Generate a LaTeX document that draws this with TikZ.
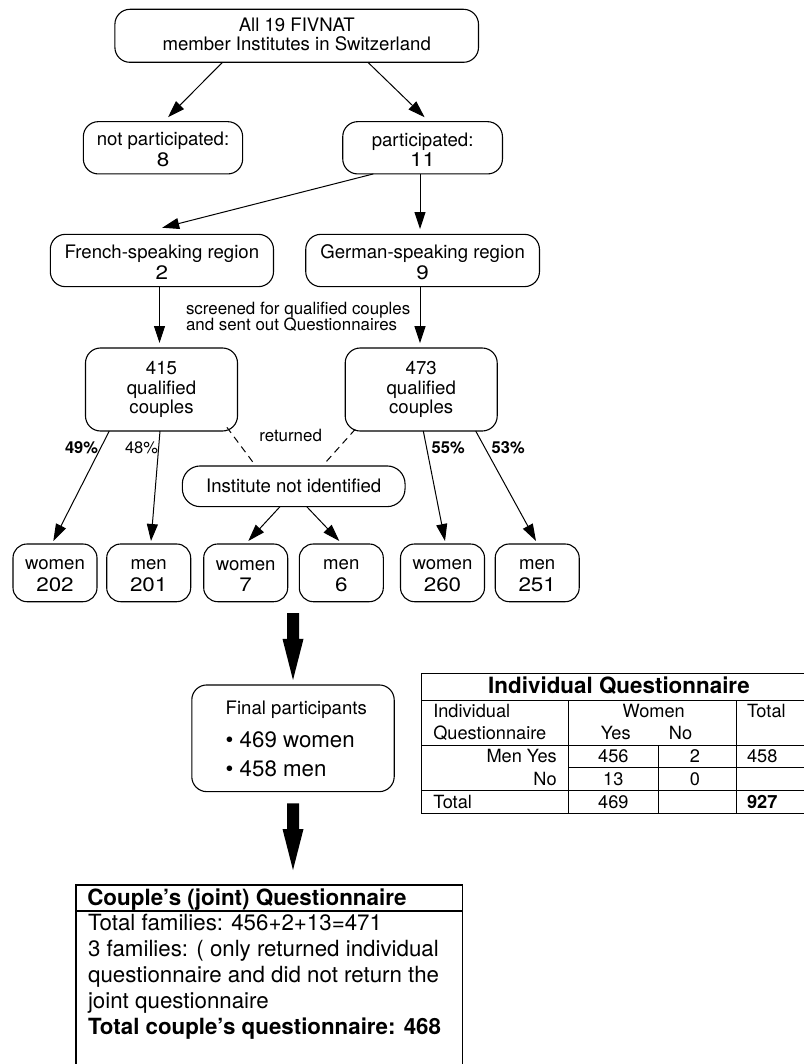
\documentclass[tikz,border=0pt]{standalone}
\usepackage{fontspec}
\setmainfont{TeX Gyre Heros}
\newfontfamily\numfam[FakeStretch=1.15]{TeX Gyre Heros}
\usetikzlibrary{arrows.meta,calc}
\newcommand\myrule[1]{\rule{0pt}{#1}}
\newcommand\bnum[1]{{\numfam\fontsize{19.5}{21}\selectfont #1}}
\begin{document}
\begin{tikzpicture}[x=1pt,y=-1pt,
  every node/.style={inner sep=0pt,outer sep=0pt},
  box/.style={draw,line width=1.1pt,rounded corners=15pt,align=center,font=\fontsize{18.6}{20.5}\selectfont},
  mbox/.style={box,minimum height=52.3pt},
  qbox/.style={box,minimum width=152pt,minimum height=83pt,font=\fontsize{18.6}{19.2}\selectfont},
  bbox/.style={box,rounded corners=14pt,minimum width=84pt,minimum height=57.7pt,font=\fontsize{18.6}{21.7}\selectfont},
  arr/.style={line width=1pt,-{Triangle[length=17pt,width=11pt]}},
  dsh/.style={line width=1pt,dash pattern=on 7pt off 5pt},
  pct/.style={anchor=base west,font=\fontsize{16.5}{18}\selectfont\bfseries},
  note/.style={font=\fontsize{16.9}{16.7}\selectfont},
  fat/.style={to path={let \p1=(\tikztostart),\p2=(\tikztotarget) in
    (\x1-6pt,\y1) -- (\x1-6pt,\y2+41pt) -- (\x1-10.5pt,\y2+41pt) -- (\x2,\y2) --
    (\x1+10.5pt,\y2+41pt) -- (\x1+6pt,\y2+41pt) -- (\x1+6pt,\y1) -- cycle}},
  tline/.style={line width=1pt},
  tcell/.style={anchor=base,font=\fontsize{18.2}{20}\selectfont},
  tleft/.style={tcell,anchor=base west},
  tright/.style={tcell,anchor=base east},
]
\useasboundingbox (0,0) rectangle (804,1064);

% ---- flow chart boxes
\node[box,minimum width=363.6pt,minimum height=53pt,font=\fontsize{18.6}{19}\selectfont] (top) at (296.7,35.8)
  {All 19 FIVNAT\\member Institutes in Switzerland\rule[-2.6pt]{0pt}{2.6pt}};
\node[mbox,minimum width=159.3pt] (notp) at (163,147.8) {\myrule{17pt}not participated:\\\bnum{8}};
\node[mbox,minimum width=159.7pt] (part) at (422.6,147.8) {\myrule{17pt}participated:\\\bnum{11}};
\node[mbox,minimum width=223.2pt] (french) at (161.9,260.5) {\myrule{17pt}French-speaking region\\\bnum{2}};
\node[mbox,minimum width=233.7pt] (german) at (422.6,260.5) {\myrule{17pt}German-speaking region\\\bnum{9}};
\node[qbox] (q415) at (161.5,389.5) {415\\qualified\\couples};
\node[qbox] (q473) at (421.2,389.5) {473\\qualified\\couples};
\node[box,rounded corners=18pt,minimum width=222.7pt,minimum height=40.7pt] (inst) at (293.7,486.3) {Institute not identified};
\node[bbox] (w202) at (55,572.85) {\myrule{16pt}women\\\bnum{202}};
\node[bbox] (m201) at (148.7,572.85) {\myrule{16pt}men\\\bnum{201}};
\node[bbox] (w7) at (245.7,572.85) {\myrule{16pt}women\\\bnum{7}};
\node[bbox] (m6) at (341.3,572.85) {\myrule{16pt}men\\\bnum{6}};
\node[bbox] (w260) at (442.5,572.85) {\myrule{16pt}women\\\bnum{260}};
\node[bbox] (m251) at (537.2,572.85) {\myrule{16pt}men\\\bnum{251}};

% ---- connectors
\draw[arr] ([xshift=-74.2pt]top.south) -- ([xshift=5pt,yshift=4.4pt]notp.north);
\draw[arr] ([xshift=71.2pt]top.south) -- ([xshift=2pt,yshift=4.4pt]part.north);
\draw[arr] ([xshift=-49.3pt]part.south) -- ([xshift=0.3pt,yshift=6.6pt]french.north);
\draw[arr] ([xshift=-2.6pt]part.south) -- ([xshift=-2.6pt,yshift=5.3pt]german.north);
\draw[arr] ([xshift=-2.4pt]french.south) -- ([xshift=-2pt,yshift=5pt]q415.north);
\draw[arr] ([xshift=-2.6pt]german.south) -- ([xshift=-1.2pt,yshift=4.8pt]q473.north);
\draw[arr] ([xshift=-52.2pt]q415.south) -- ([xshift=-1.7pt,yshift=3pt]w202.north);
\draw[arr] ([xshift=-1.5pt]q415.south) -- ([xshift=2.3pt,yshift=3pt]m201.north);
\draw[arr] ([xshift=-13.7pt]inst.south) -- ([xshift=2.6pt,yshift=3pt]w7.north);
\draw[arr] ([xshift=13pt]inst.south) -- ([xshift=-2pt,yshift=3pt]m6.north);
\draw[arr] ([xshift=2.1pt]q473.south) -- ([xshift=2.5pt,yshift=3pt]w260.north);
\draw[arr] ([xshift=54.5pt]q473.south) -- ([xshift=-1.2pt,yshift=3pt]m251.north);
\draw[dsh] ([xshift=-10.6pt,yshift=3.7pt]q415.south east) -- ([xshift=-38.7pt,yshift=1pt]inst.north);
\draw[dsh] ([xshift=10pt,yshift=1.7pt]q473.south west) -- ([xshift=29.6pt,yshift=1pt]inst.north);

% ---- labels
\node[note,anchor=north west,align=left] (scr) at (186,301.7)
  {\myrule{12.3pt}screened for qualified couples\\and sent out Questionnaires};
\node[note,anchor=base west] (ret) at (259.3,441.7) {returned};
\node[pct] (p49) at (65,453) {49\%};
\node[pct,font=\fontsize{16.5}{18}\selectfont] (p48) at (125,453) {48\%};
\node[pct] (p55) at (431.7,453) {55\%};
\node[pct] (p53) at (491.7,453) {53\%};

% ---- final participants
\coordinate (b1s) at (293,613);
\node[box,minimum width=202.4pt,minimum height=106.7pt] (final) at (293,738.3) {};
\fill (b1s) to[fat] ([yshift=5pt]final.north);
\node[anchor=base west,font=\fontsize{18.6}{20}\selectfont] (fp) at (225.7,714) {Final participants};
\node[anchor=base west,font=\fontsize{22.3}{24}\selectfont] (fw) at (225.7,747.3) {• 469 women};
\node[anchor=base west,font=\fontsize{22.3}{24}\selectfont] (fm) at (225.7,776) {• 458 men};
\coordinate (b2e) at (293,870);
\fill ([yshift=-11.6pt]final.south) to[fat] (b2e);

% ---- couple's questionnaire
\draw[line width=1.1pt] (76,1064) -- (76,885) -- (462.3,885) -- (462.3,1064);
\draw[line width=1.1pt] (76,911) -- (462.3,911);
\node[anchor=base west,font=\fontsize{22.4}{24}\selectfont\bfseries] (chead) at (87.3,905) {Couple’s (joint) Questionnaire};
\node[anchor=north west,align=left,font=\fontsize{22.3}{26}\selectfont] (cbody) at (88,914.4)
  {\myrule{16.3pt}Total families: 456+2+13=471\\3 families: ( only returned individual\\questionnaire and did not return the\\joint questionnaire\\\textbf{Total couple’s questionnaire: 468}};

% ---- individual questionnaire table
\draw[tline] (804,673.3) -- (421.7,673.3) -- (421.7,813.7) -- (804,813.7);
\draw[tline] (421.7,700.7) -- (804,700.7);
\draw[tline] (421.7,745) -- (804,745);
\draw[tline] (568.3,767.7) -- (804,767.7);
\draw[tline] (421.7,790.7) -- (804,790.7);
\draw[tline] (568.3,700.7) -- (568.3,813.7);
\draw[tline] (658.3,745) -- (658.3,813.7);
\draw[tline] (736,700.7) -- (736,813.7);
\node[anchor=base,font=\fontsize{22.4}{24}\selectfont\bfseries] (ttitle) at (619,693.3) {Individual Questionnaire};
\node[tleft] (th1) at (433.3,717.7) {Individual};
\node[tleft] (th2) at (433.3,739) {Questionnaire};
\node[tcell] (thw) at (653.7,717.7) {Women};
\node[tcell] (thy) at (615.8,739) {Yes};
\node[tcell] (thn) at (680.5,739) {No};
\node[tleft] (tht) at (747,717.7) {Total};
\node[tright] (rmy) at (556.7,762.7) {Men Yes};
\node[tcell] (c11) at (613.3,762.7) {456};
\node[tcell] (c12) at (695,762.7) {2};
\node[tleft] (c13) at (747,762.7) {458};
\node[tright] (rmn) at (556.7,785.7) {No};
\node[tcell] (c21) at (613.3,785.7) {13};
\node[tcell] (c22) at (695,785.7) {0};
\node[tleft] (rt) at (433.3,808.7) {Total};
\node[tcell] (c31) at (613.3,808.7) {469};
\node[tleft,font=\fontsize{18.2}{20}\selectfont\bfseries] (c33) at (747,808.7) {927};
\end{tikzpicture}
\end{document}
